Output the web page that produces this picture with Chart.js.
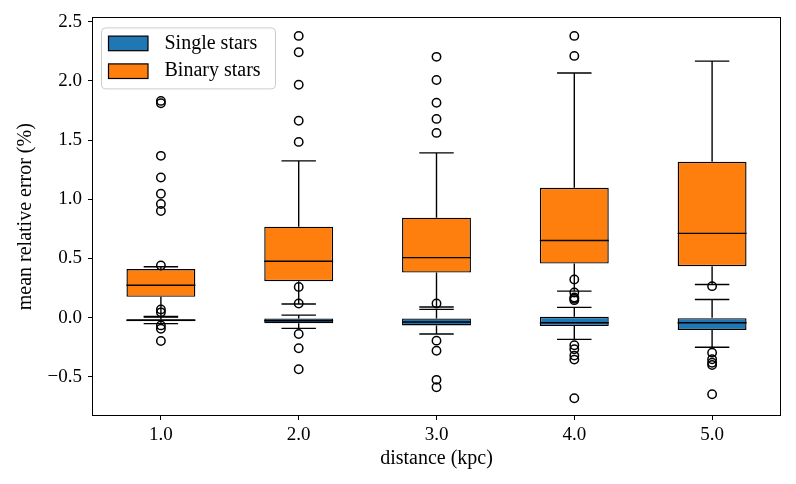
<!DOCTYPE html>
<html><head><meta charset="utf-8">
<script src="https://cdn.jsdelivr.net/npm/chart.js@4.4.1/dist/chart.umd.min.js"></script>
<style>html,body{margin:0;padding:0;background:#fff;}</style>
</head><body>
<canvas id="c" width="796" height="484" style="width:796px;height:484px;display:block"></canvas>
<script>
// ---- data ----
const distances = [1, 2, 3, 4, 5];
const xTickLabels = ['1.0', '2.0', '3.0', '4.0', '5.0'];
const yTickValues = [-0.5, 0, 0.5, 1, 1.5, 2, 2.5];
const yTickLabels = ['\u22120.5', '0.0', '0.5', '1.0', '1.5', '2.0', '2.5'];
const seriesNames = ['Single stars', 'Binary stars'];

const singleLo  = [-0.050, -0.090, -0.138, -0.183, -0.250];
const singleQ1  = [-0.030, -0.048, -0.065, -0.071, -0.104];
const singleMed = [-0.022, -0.026, -0.037, -0.043, -0.043];
const singleQ3  = [-0.014, -0.006, -0.006,  0.008,  0.000];
const singleHi  = [ 0.005,  0.022,  0.070,  0.087,  0.154];
const singleOut = [
  [0.070, 0.045, -0.065, -0.093, -0.197],
  [0.260, 0.120, -0.138, -0.258, -0.435],
  [0.120, -0.194, -0.279, -0.525, -0.587],
  [0.322, 0.213, 0.171, 0.160, 0.148, -0.233, -0.267, -0.320, -0.354, -0.680],
  [0.266, -0.295, -0.351, -0.380, -0.400, -0.646]
];

const binaryLo  = [0.010, 0.115, 0.090, 0.224, 0.280];
const binaryQ1  = [0.176, 0.308, 0.381, 0.457, 0.434];
const binaryMed = [0.274, 0.476, 0.507, 0.651, 0.712];
const binaryQ3  = [0.410, 0.768, 0.844, 1.097, 1.316];
const binaryHi  = [0.430, 1.324, 1.391, 2.065, 2.166];
const binaryOut = [
  [0.440, 0.900, 0.960, 1.046, 1.183, 1.366, 1.810, 1.830],
  [1.484, 1.663, 1.966, 2.241, 2.379],
  [1.560, 1.678, 1.815, 2.006, 2.202],
  [2.210, 2.379],
  []
];

const yMin = -0.83, yMax = 2.535;
// ---- end data ----

const FONT = "'Liberation Serif', 'Times New Roman', serif";
const colors = ['#1f77b4', '#ff7f0e'];
const capHalf = 0.125, boxHalf = 0.25;

function boxData(q1, q3) {
  return distances.map((x, i) => ({ x: x, y: [q1[i], q3[i]] }));
}
function linePoints(lo, q1, med, q3, hi) {
  const p = [];
  distances.forEach((x, i) => {
    p.push({x: x, y: q3[i]}, {x: x, y: hi[i]}, {x: x, y: null});
    p.push({x: x, y: q1[i]}, {x: x, y: lo[i]}, {x: x, y: null});
    p.push({x: x - capHalf, y: hi[i]}, {x: x + capHalf, y: hi[i]}, {x: x, y: null});
    p.push({x: x - capHalf, y: lo[i]}, {x: x + capHalf, y: lo[i]}, {x: x, y: null});
    p.push({x: x - boxHalf, y: med[i]}, {x: x + boxHalf, y: med[i]}, {x: x, y: null});
  });
  return p;
}
function flierPoints(out) {
  const p = [];
  distances.forEach((x, i) => out[i].forEach(v => p.push({x: x, y: v})));
  return p;
}

const barStyle = (c) => ({
  type: 'bar', backgroundColor: c, borderColor: '#000', borderWidth: 1.4,
  borderSkipped: false, grouped: false, barPercentage: 0.5, categoryPercentage: 1.0
});
const lineStyle = {
  type: 'line', borderColor: '#000', borderWidth: 1.4, pointRadius: 0,
  spanGaps: false, fill: false, tension: 0, borderCapStyle: 'butt'
};
const flierStyle = {
  type: 'scatter', showLine: false, pointRadius: 4.2, pointBorderWidth: 1.5,
  pointBorderColor: '#000', pointBackgroundColor: 'rgba(0,0,0,0)', pointHoverRadius: 4.2
};

const datasets = [
  Object.assign({label: seriesNames[0], data: boxData(singleQ1, singleQ3), order: 6}, barStyle(colors[0])),
  Object.assign({label: seriesNames[1], data: boxData(binaryQ1, binaryQ3), order: 5}, barStyle(colors[1])),
  Object.assign({label: 'sw', data: linePoints(singleLo, singleQ1, singleMed, singleQ3, singleHi), order: 4}, lineStyle),
  Object.assign({label: 'sf', data: flierPoints(singleOut), order: 3}, flierStyle),
  Object.assign({label: 'bw', data: linePoints(binaryLo, binaryQ1, binaryMed, binaryQ3, binaryHi), order: 2}, lineStyle),
  Object.assign({label: 'bf', data: flierPoints(binaryOut), order: 1}, flierStyle)
];

const framePlugin = {
  id: 'frame',
  afterDatasetsDraw(chart) {
    const a = chart.chartArea, ctx = chart.ctx;
    ctx.save();
    ctx.strokeStyle = '#000';
    ctx.lineWidth = 1;
    ctx.strokeRect(Math.round(a.left) + 0.5, Math.round(a.top) + 0.5,
                   Math.round(a.right - a.left) - 1, Math.round(a.bottom - a.top) - 1);
    ctx.restore();
  }
};

const legendPlugin = {
  id: 'boxLegend',
  afterDraw(chart) {
    const a = chart.chartArea, ctx = chart.ctx;
    const fx = a.left + 9.5, fy = a.top + 10.5, fw = 174, fh = 61, r = 4;
    ctx.save();
    ctx.beginPath();
    ctx.moveTo(fx + r, fy);
    ctx.arcTo(fx + fw, fy, fx + fw, fy + fh, r);
    ctx.arcTo(fx + fw, fy + fh, fx, fy + fh, r);
    ctx.arcTo(fx, fy + fh, fx, fy, r);
    ctx.arcTo(fx, fy, fx + fw, fy, r);
    ctx.closePath();
    ctx.fillStyle = 'rgba(255,255,255,0.8)';
    ctx.fill();
    ctx.strokeStyle = '#cccccc';
    ctx.lineWidth = 1;
    ctx.stroke();
    [0, 1].forEach(k => {
      const ds = chart.data.datasets[k];
      const cy = fy + 15.5 + k * 27.8;
      ctx.fillStyle = ds.backgroundColor;
      ctx.fillRect(fx + 7, cy - 7.3, 39.5, 14.6);
      ctx.strokeStyle = '#000';
      ctx.lineWidth = 1.2;
      ctx.strokeRect(fx + 7, cy - 7.3, 39.5, 14.6);
      ctx.fillStyle = '#000';
      ctx.font = '20px ' + FONT;
      ctx.textBaseline = 'middle';
      ctx.textAlign = 'left';
      ctx.fillText(ds.label, fx + 63, cy);
    });
    ctx.restore();
  }
};

new Chart(document.getElementById('c'), {
  type: 'bar',
  data: { datasets: datasets },
  plugins: [framePlugin, legendPlugin],
  options: {
    responsive: false,
    animation: false,
    devicePixelRatio: 1,
    layout: { padding: { left: 0, right: 15, top: 16, bottom: 0 } },
    plugins: { legend: { display: false }, tooltip: { enabled: false } },
    scales: {
      x: {
        type: 'linear', min: 0.5, max: 5.5, offset: false,
        afterBuildTicks: s => { s.ticks = distances.map(v => ({value: v})); },
        afterFit: s => { s.height = 68; },
        ticks: {
          autoSkip: false, maxRotation: 0, color: '#000', padding: 4,
          font: { family: FONT, size: 19 },
          callback: (v, i) => xTickLabels[i]
        },
        grid: { offset: false, drawOnChartArea: false, drawTicks: true, tickLength: 4, tickColor: '#000', tickWidth: 1 },
        border: { display: false },
        title: { display: true, text: 'distance (kpc)', color: '#000',
                 font: { family: FONT, size: 20 }, padding: { top: 0, bottom: 13 } }
      },
      y: {
        type: 'linear', min: yMin, max: yMax,
        afterBuildTicks: s => { s.ticks = yTickValues.map(v => ({value: v})); },
        afterFit: s => { s.width = 92; },
        ticks: {
          autoSkip: false, color: '#000', padding: 6,
          font: { family: FONT, size: 19 },
          callback: (v, i) => yTickLabels[i]
        },
        grid: { offset: false, drawOnChartArea: false, drawTicks: true, tickLength: 4, tickColor: '#000', tickWidth: 1 },
        border: { display: false },
        title: { display: true, text: 'mean relative error (%)', color: '#000',
                 font: { family: FONT, size: 20 }, padding: { top: 14, bottom: 0 } }
      }
    }
  }
});
</script>
</body></html>
